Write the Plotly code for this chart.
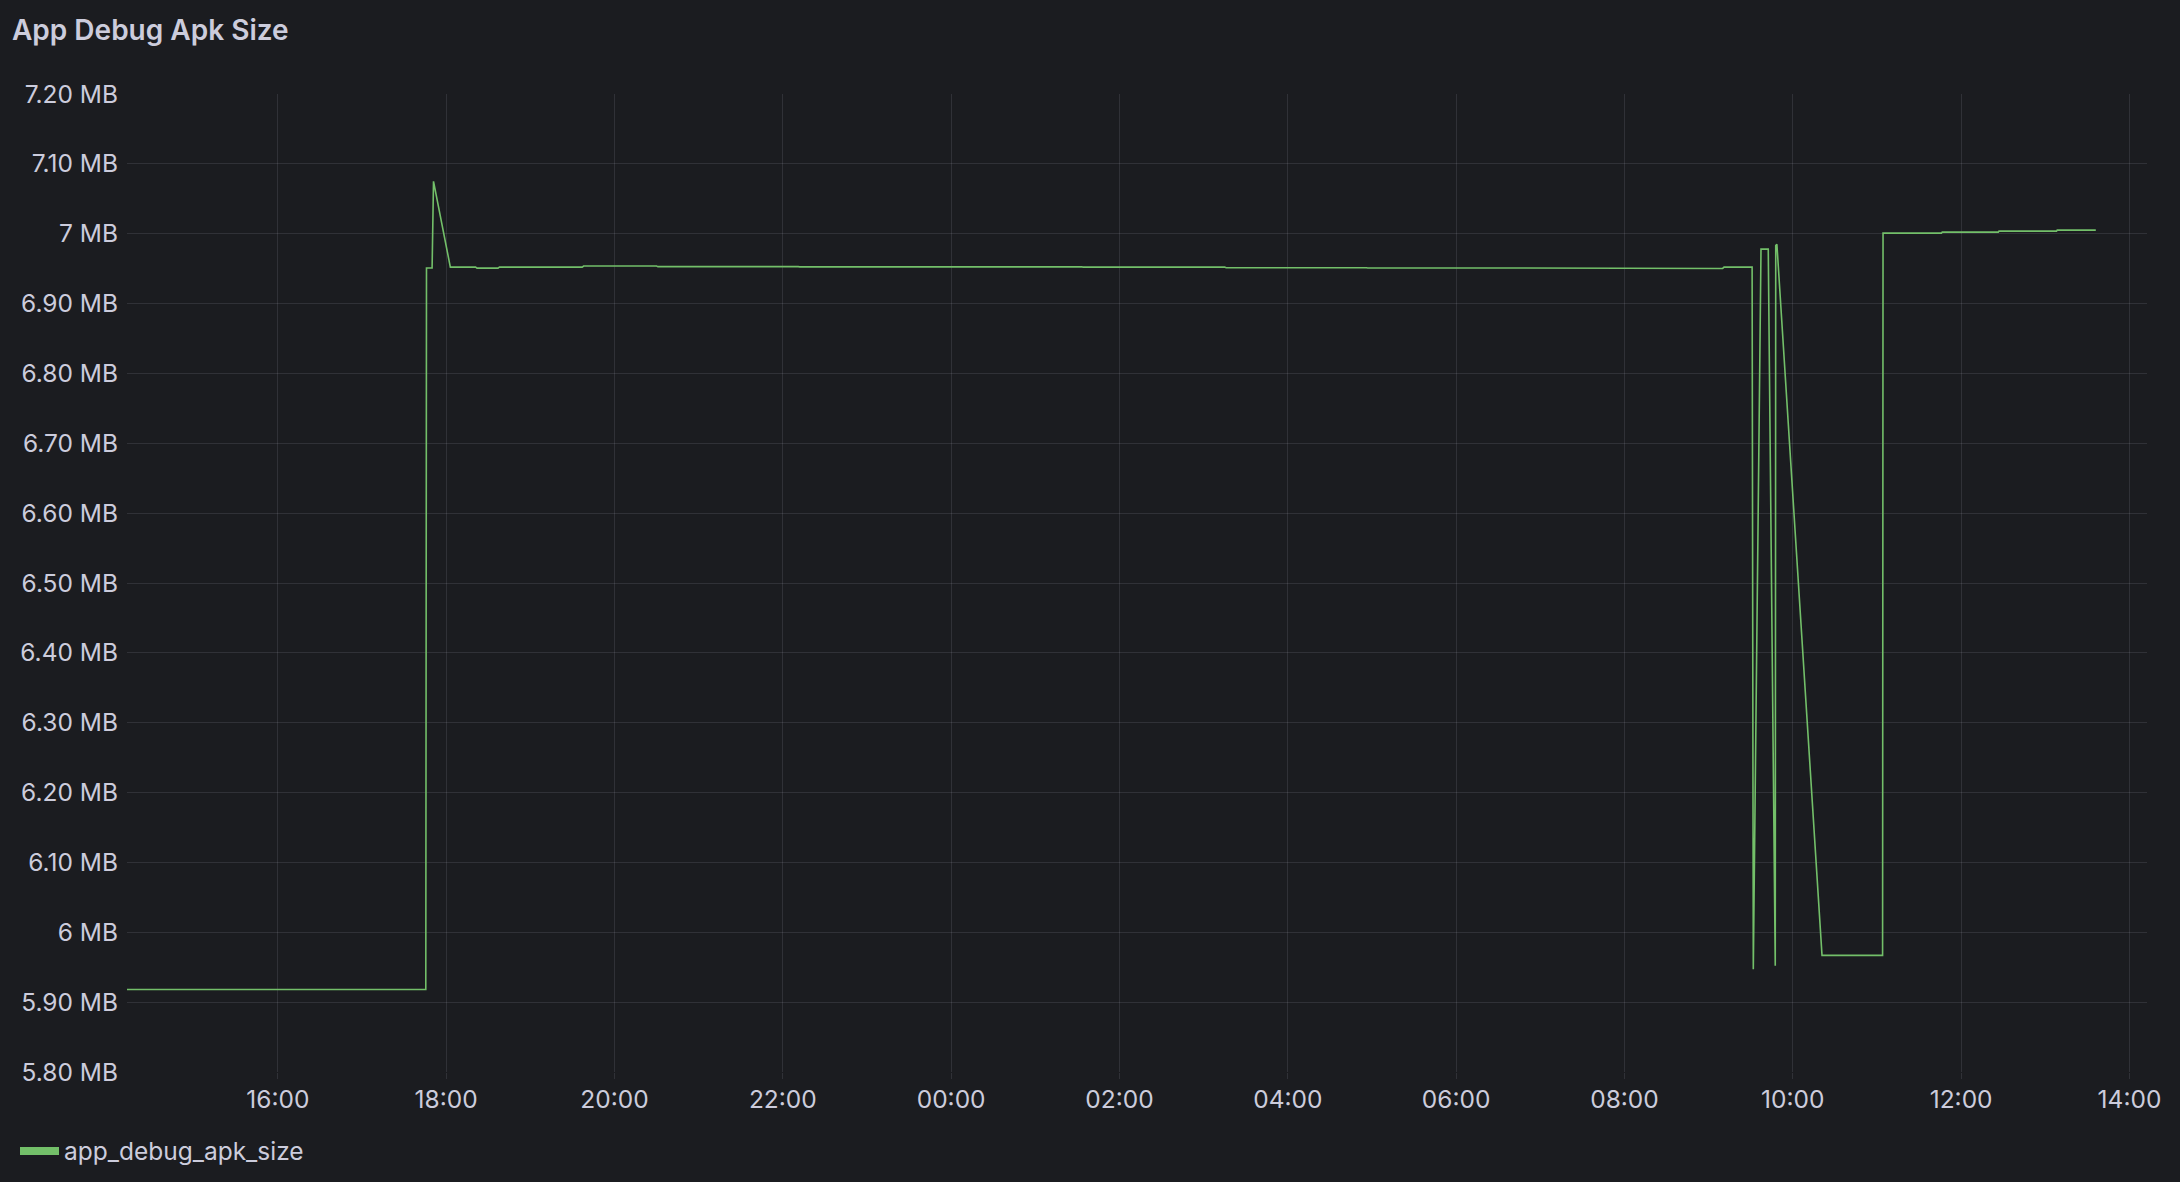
import plotly.graph_objects as go

# ---- data ----
times = [
    "2024-03-11 14:12:00", "2024-03-11 17:45:30", "2024-03-11 17:46:00", "2024-03-11 17:50:00",
    "2024-03-11 17:51:00", "2024-03-11 18:03:00", "2024-03-11 18:21:00", "2024-03-11 18:22:00",
    "2024-03-11 18:37:00", "2024-03-11 18:38:00", "2024-03-11 19:37:00", "2024-03-11 19:38:00",
    "2024-03-11 20:30:00", "2024-03-11 20:31:00", "2024-03-11 22:11:00", "2024-03-11 22:12:00",
    "2024-03-12 01:33:00", "2024-03-12 01:34:00", "2024-03-12 03:15:00", "2024-03-12 03:16:00",
    "2024-03-12 04:56:00", "2024-03-12 04:57:00", "2024-03-12 06:37:00", "2024-03-12 06:38:00",
    "2024-03-12 08:19:00", "2024-03-12 08:20:00", "2024-03-12 09:10:00", "2024-03-12 09:11:00",
    "2024-03-12 09:31:00", "2024-03-12 09:31:50", "2024-03-12 09:37:20", "2024-03-12 09:42:30",
    "2024-03-12 09:47:30", "2024-03-12 09:47:50", "2024-03-12 09:48:40", "2024-03-12 10:20:50",
    "2024-03-12 11:04:00", "2024-03-12 11:04:20", "2024-03-12 11:46:00", "2024-03-12 11:46:30",
    "2024-03-12 12:26:30", "2024-03-12 12:27:00", "2024-03-12 13:08:00", "2024-03-12 13:08:30",
    "2024-03-12 13:36:00",
]
apk_size_mb = [
    5.918, 5.918, 6.951, 6.951,
    7.075, 6.9522, 6.9522, 6.9508,
    6.9508, 6.9522, 6.9522, 6.9537,
    6.9537, 6.9529, 6.9529, 6.9526,
    6.9526, 6.9522, 6.9522, 6.9513,
    6.9513, 6.9510, 6.9510, 6.9510,
    6.9510, 6.9503, 6.9503, 6.9522,
    6.9522, 5.947, 6.978, 6.978,
    5.952, 6.983, 6.985, 5.967,
    5.967, 7.0009, 7.0009, 7.0023,
    7.0023, 7.0037, 7.0037, 7.0052,
    7.0052,
]
series_name = "app_debug_apk_size"
panel_title = "App Debug Apk Size"
y_tick_values = [5.8, 5.9, 6.0, 6.1, 6.2, 6.3, 6.4, 6.5, 6.6, 6.7, 6.8, 6.9, 7.0, 7.1, 7.2]
y_tick_labels = ["5.80 MB", "5.90 MB", "6 MB", "6.10 MB", "6.20 MB", "6.30 MB", "6.40 MB",
                 "6.50 MB", "6.60 MB", "6.70 MB", "6.80 MB", "6.90 MB", "7 MB", "7.10 MB", "7.20 MB"]
x_range = ["2024-03-11 14:12:30", "2024-03-12 14:12:30"]

# ---- style ----
BG = "#1b1c20"
TEXT = "#ccccdc"
GRID = "rgba(204,204,220,0.12)"
GREEN = "#73BF69"
FONT = "Inter"
TICK_SIZE = 24.5

fig = go.Figure()
fig.add_trace(go.Scatter(
    x=times, y=apk_size_mb, mode="lines", name=series_name,
    line=dict(color=GREEN, width=1.6), showlegend=False,
))
# legend entry (thicker swatch like the reference)
fig.add_trace(go.Scatter(
    x=[None], y=[None], mode="lines", name=series_name,
    line=dict(color=GREEN, width=8), showlegend=True,
))

fig.update_layout(
    width=2180, height=1182,
    paper_bgcolor=BG, plot_bgcolor=BG,
    margin=dict(l=127, r=33, t=94, b=110, autoexpand=False),
    font=dict(family=FONT, color=TEXT, size=TICK_SIZE),
    title=dict(
        text=panel_title, x=12 / 2180, xanchor="left", xref="container",
        y=1 - 30 / 1182, yanchor="middle", yref="container",
        font=dict(family=FONT, size=28, color=TEXT, weight=600),
    ),
    legend=dict(
        x=15 / 2180, xanchor="left", xref="container",
        y=1 - 1151 / 1182, yanchor="middle", yref="container",
        font=dict(family=FONT, size=TICK_SIZE, color=TEXT),
        bgcolor="rgba(0,0,0,0)", itemwidth=39,
    ),
    showlegend=True,
)
fig.update_xaxes(
    type="date", range=x_range, dtick=7200000, tickformat="%H:%M",
    showgrid=True, gridcolor=GRID, gridwidth=1,
    ticks="outside", ticklen=6, tickcolor=GRID, tickwidth=1,
    ticklabelstandoff=0, automargin=False,
    showline=False, zeroline=False,
    tickfont=dict(family=FONT, size=TICK_SIZE, color=TEXT),
)
fig.update_yaxes(
    range=[5.8, 7.2], tickmode="array", tickvals=y_tick_values, ticktext=y_tick_labels,
    showgrid=True, gridcolor=GRID, gridwidth=1,
    ticks="", ticklabelstandoff=8, automargin=False,
    showline=False, zeroline=False,
    tickfont=dict(family=FONT, size=TICK_SIZE, color=TEXT),
)

fig.write_html("out.html")
